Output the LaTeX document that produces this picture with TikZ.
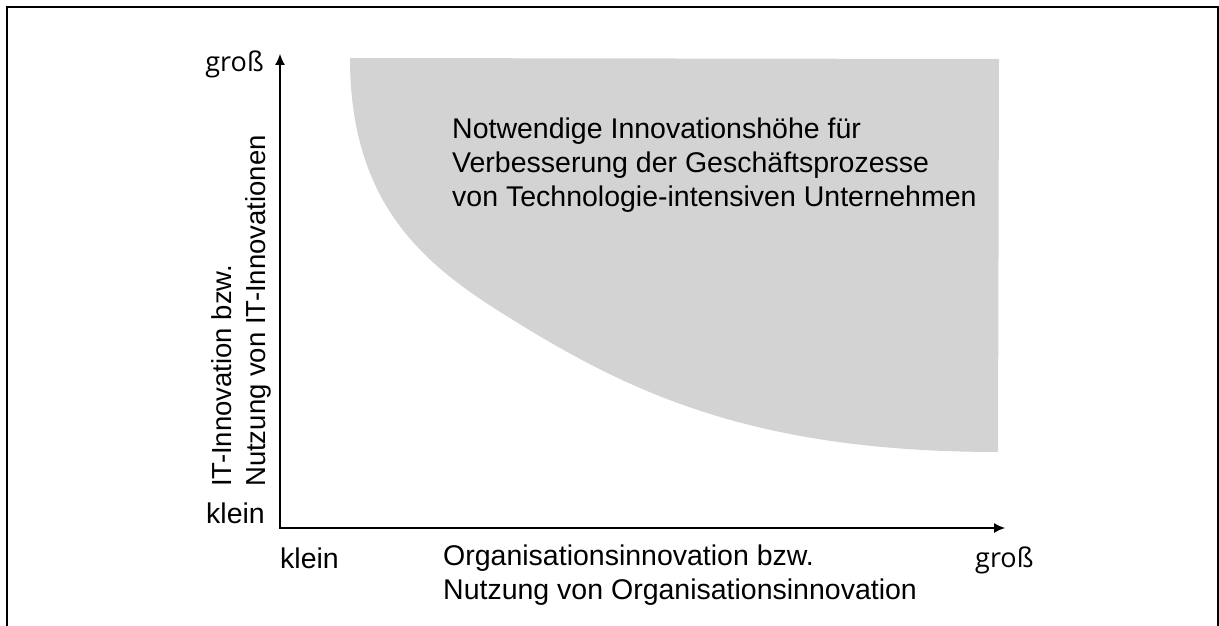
\documentclass[tikz,border=0pt]{standalone}
\usepackage{fontspec}
\setmainfont{Liberation Sans}
\newfontfamily\grossfont{Open Sans}
\usetikzlibrary{arrows.meta}

\definecolor{innogray}{RGB}{211,211,211}
\tikzset{
	lbl/.style={inner sep=0pt, font=\fontsize{28.5}{34}\selectfont},
	grosslbl/.style={inner sep=0pt, font=\grossfont\fontsize{27}{30}\selectfont},
	axis/.style={line width=1.1pt, {Latex[length=11pt,width=10pt]}-{Latex[length=11pt,width=10pt]}},
}

\begin{document}
\begin{tikzpicture}[x=1pt, y=-1pt]
		\useasboundingbox (0,0) rectangle (1219,626);
		% frame, open at the bottom
		\draw[line width=2pt] (6.5,630) -- (6.5,7) -- (1217.5,7) -- (1217.5,630);

		\coordinate (O) at (280, 528);
		\coordinate (Ytop) at (280, 54);
		\coordinate (Xend) at (1005, 528);

		% region above the curve
		\fill[innogray] (998,452) -- (999,59) -- (350,58)
			.. controls (350,205) and (425,265) .. (505,315)
			.. controls (625,390) and (748,452) .. (998,452) -- cycle;

		\draw[axis] (Ytop) -- (O) -- (Xend);

		\node[lbl, anchor=north west, align=left] (area) at (452,118) {Notwendige Innovationshöhe für\\Verbesserung der Geschäftsprozesse\\von Technologie-intensiven Unternehmen};

		\node[lbl, anchor=north west, align=left, rotate=90, font=\fontsize{27.5}{34}\selectfont] (ylabel) at (211,487) {IT-Innovation bzw.\\Nutzung von IT-Innovationen};
		\node[lbl, anchor=north west, align=left] (xlabel) at (443,545) {Organisationsinnovation bzw.\\Nutzung von Organisationsinnovation};

		\node[lbl, anchor=base east] (ysmall) at (265,523) {klein};
		\node[grosslbl, anchor=base east] (ybig) at (264,72) {groß};
		\node[lbl, anchor=base west] (xsmall) at (280,568) {klein};
		\node[grosslbl, anchor=base west] (xbig) at (975,567) {groß};
	\end{tikzpicture}
\end{document}
